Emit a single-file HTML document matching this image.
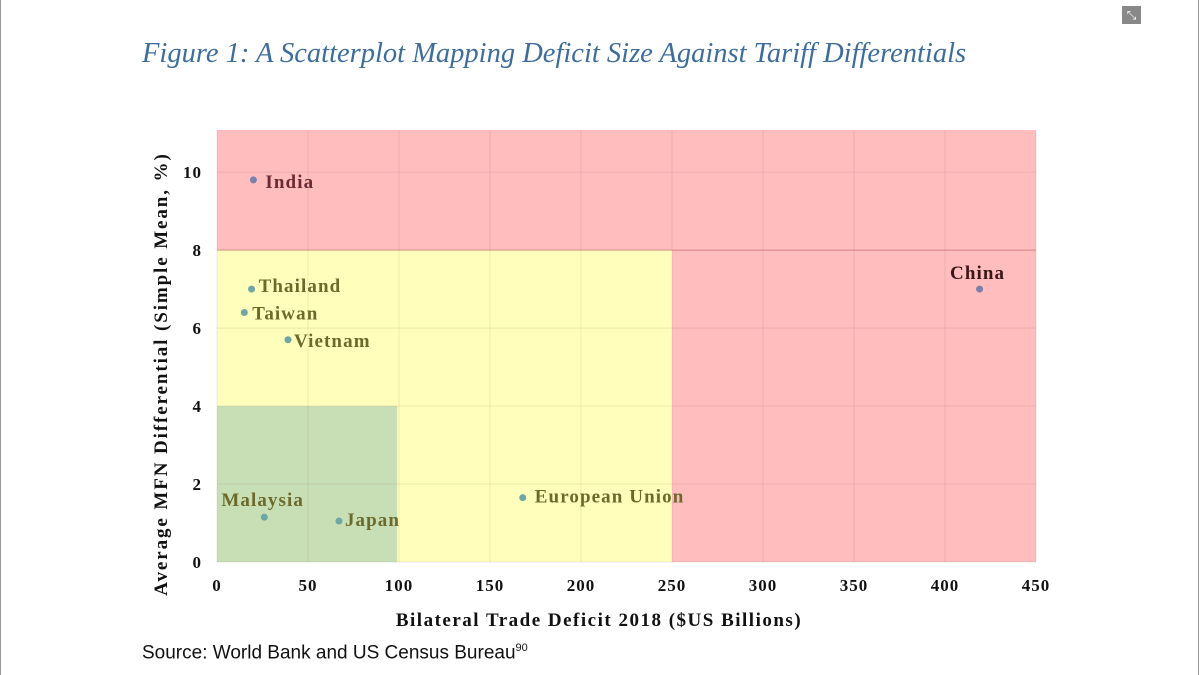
<!DOCTYPE html>
<html><head><meta charset="utf-8"><style>
body{margin:0;width:1200px;height:675px;background:#fff;overflow:hidden;position:relative;font-family:"Liberation Serif",serif}
.t{position:absolute;left:142px;top:38px;font-size:28.5px;font-style:italic;color:#3c6d9c;font-family:"Liberation Serif",serif;white-space:nowrap}
.src{position:absolute;left:142px;top:642px;font-size:19px;font-family:"Liberation Sans",sans-serif;color:#111}
</style></head><body>
<div style="position:absolute;left:0;top:0;width:1px;height:675px;background:#999"></div>
<div style="position:absolute;left:1198px;top:0;width:1px;height:675px;background:#999"></div>
<div style="position:absolute;left:1122px;top:6px;width:19px;height:18px;background:#888;color:#fff;font-size:12px;text-align:center;line-height:18px">⤡</div>
<div class="t">Figure 1: A Scatterplot Mapping Deficit Size Against Tariff Differentials</div>
<svg id="c" width="1200" height="675" style="position:absolute;left:0;top:0"></svg>
<div class="src">Source: World Bank and US Census Bureau<sup style="font-size:11px">90</sup></div>
<script>
const names=["India","Thailand","Taiwan","Vietnam","Malaysia","Japan","European Union","China"];
const deficits=[20,19,15,39,26,67,168,419];
const tariffs=[9.8,7.0,6.4,5.7,1.15,1.05,1.65,7.0];
const xTicks=[0,50,100,150,200,250,300,350,400,450];
const yTicks=[0,2,4,6,8,10];
const X0=217,X1=1036,Y0=562,YT=130,XMAX=450,YMAX=11.08;
const sx=v=>X0+(v/XMAX)*(X1-X0), sy=v=>Y0-(v/YMAX)*(Y0-YT);
const svg=document.getElementById('c'),NS='http://www.w3.org/2000/svg';
function mk(t,a,txt){const e=document.createElementNS(NS,t);for(const k in a)e.setAttribute(k,a[k]);if(txt!=null)e.textContent=txt;svg.appendChild(e);return e;}
let r;
r=mk('rect',{x:X0,y:YT,width:X1-X0,height:Y0-YT,fill:'#ffbdbd'});

r=mk('rect',{x:X0,y:sy(8),width:sx(250)-X0,height:Y0-sy(8),fill:'#ffffbb'});

r=mk('rect',{x:X0,y:sy(4),width:sx(99)-X0,height:Y0-sy(4),fill:'#c8dfb6'});

xTicks.forEach(v=>{let l=mk('line',{x1:sx(v),x2:sx(v),y1:YT,y2:Y0,stroke:'rgba(150,100,100,0.15)'});

let t=mk('text',{x:sx(v),y:591,'text-anchor':'middle','font-size':17,'font-weight':'bold',fill:'#111','letter-spacing':1},v);
});
yTicks.concat([8]).forEach(v=>{let l=mk('line',{x1:X0,x2:X1,y1:sy(v),y2:sy(v),stroke:v==8?'rgba(180,80,80,0.3)':'rgba(150,100,100,0.15)'});
});
yTicks.forEach(v=>{let t=mk('text',{x:202,y:sy(v)+6,'text-anchor':'end','font-size':17,'font-weight':'bold',fill:'#111','letter-spacing':1},v);
});
const lab={India:[12,8,'start','#6e2a33'],Thailand:[7,3,'start','#6b6a2c'],Taiwan:[8,7,'start','#6b6a2c'],Vietnam:[6,7,'start','#6b6a2c'],Malaysia:[-43,-11,'start','#6b6a2c'],Japan:[6,5,'start','#6b6a2c'],'European Union':[12,5,'start','#6b6a2c'],China:[-2,-10,'middle','#3c1518']};
names.forEach((n,i)=>{const x=sx(deficits[i]),y=sy(tariffs[i]);
let c=mk('circle',{cx:x,cy:y,r:3.5,fill:(n=='India'||n=='China')?'#7b80aa':'#6ea6a6'});

const L=lab[n];let t=mk('text',{x:x+L[0],y:y+L[1],'text-anchor':L[2],'font-size':19,'font-weight':'bold',fill:L[3],'letter-spacing':1.1},n);
});
let xt=mk('text',{x:599,y:626,'text-anchor':'middle','font-size':19,'font-weight':'bold',fill:'#111','letter-spacing':1.5},'Bilateral Trade Deficit 2018 ($US Billions)');

let yt=mk('text',{x:0,y:0,transform:'translate(167,374) rotate(-90)','text-anchor':'middle','font-size':19,'font-weight':'bold',fill:'#111','letter-spacing':1.9},'Average MFN Differential (Simple Mean, %)');

</script>
</body></html>
